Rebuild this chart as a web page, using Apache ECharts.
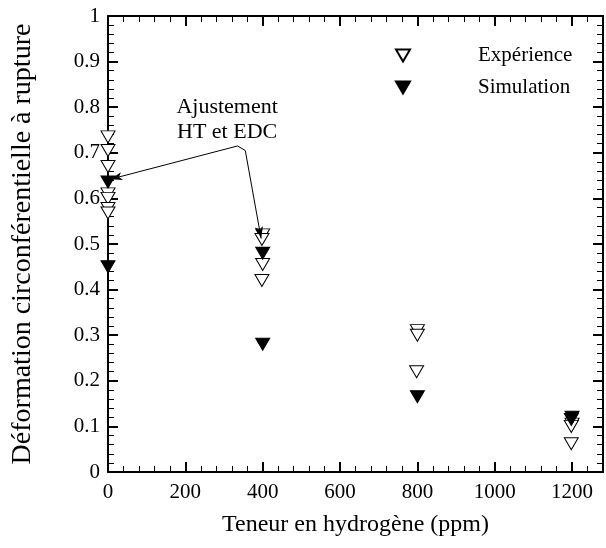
<!DOCTYPE html>
<html>
<head>
<meta charset="utf-8">
<script src="https://cdn.jsdelivr.net/npm/echarts@6/dist/echarts.min.js"></script>
<style>html,body{margin:0;padding:0;background:#fff}#c{width:606px;height:548px}</style>
</head>
<body>
<div id="c"></div>
<script>
// Experience (open triangles)
const expX = [0, 0, 0, 0, 0, 0, 0, 400, 398, 400, 398, 800, 800, 798, 1200, 1198, 1198];
const expY = [0.735, 0.705, 0.67, 0.61, 0.60, 0.578, 0.568, 0.52, 0.51, 0.455, 0.42, 0.31, 0.30, 0.22, 0.105, 0.10, 0.062];
// Simulation (filled triangles)
const simX = [0, 0, 400, 400, 800, 1200, 1198];
const simY = [0.636, 0.45, 0.48, 0.28, 0.165, 0.12, 0.115];
const xTicks = [0, 200, 400, 600, 800, 1000, 1200];
const seriesNames = ['Expérience', 'Simulation'];
const axisTitles = {x: 'Teneur en hydrogène (ppm)', y: 'Déformation circonférentielle à rupture'};
const noteText = 'Ajustement\nHT et EDC';
const notePos = [308, 0.772];
const noteArrowA = [[335, 0.715], [6, 0.642]];
const noteJoin = [[335, 0.715], [355, 0.705]];
const noteArrowB = [[355, 0.705], [396, 0.512]];

const FONT = 'Liberation Serif';
const TRI = 'path://M0,0 L14,0 L7,12 Z';
const pair = (xs, ys) => xs.map((x, i) => [x, ys[i]]);

const tickCommon = () => ({
  axisLine: {show: true, onZero: false, lineStyle: {color: '#000', width: 2}},
  axisTick: {show: true, inside: true, length: 10, lineStyle: {color: '#000', width: 2}},
  minorTick: {show: true, splitNumber: 5, length: 6, lineStyle: {color: '#000', width: 1}},
  splitLine: {show: false},
  minorSplitLine: {show: false},
  axisLabel: {show: false}
});

const chart = echarts.init(document.getElementById('c'), null, {renderer: 'canvas'});
chart.setOption({
  animation: false,
  backgroundColor: '#fff',
  grid: {left: 108, right: 3, top: 16, bottom: 76, containLabel: false},
  legend: {
    data: seriesNames,
    orient: 'vertical',
    left: 390, top: 40,
    itemWidth: 140, itemHeight: 12, itemGap: 11,
    textStyle: {fontFamily: FONT, fontSize: 21, color: '#000'},
    selectedMode: false
  },
  xAxis: [
    Object.assign(tickCommon(), {
      type: 'value', position: 'bottom', min: 0, max: 1280, interval: 200,
      name: axisTitles.x, nameLocation: 'middle', nameGap: 41,
      nameTextStyle: {fontFamily: FONT, fontSize: 24, color: '#000'},
      axisLabel: {show: true, color: '#000', fontFamily: FONT, fontSize: 21, margin: 10,
        formatter: v => xTicks.indexOf(v) >= 0 ? String(v) : ''}
    }),
    Object.assign(tickCommon(), {type: 'value', position: 'top', min: 0, max: 1280, interval: 200})
  ],
  yAxis: [
    Object.assign(tickCommon(), {
      type: 'value', position: 'left', min: 0, max: 1, interval: 0.1,
      name: axisTitles.y, nameLocation: 'middle', nameGap: 71,
      nameTextStyle: {fontFamily: FONT, fontSize: 28, color: '#000'},
      axisLabel: {show: true, color: '#000', fontFamily: FONT, fontSize: 21, margin: 8,
        formatter: v => String(Math.round(v * 10) / 10)}
    }),
    Object.assign(tickCommon(), {type: 'value', position: 'right', min: 0, max: 1, interval: 0.1})
  ],
  series: [
    {
      name: seriesNames[0], type: 'scatter', symbol: TRI, symbolSize: [14, 12],
      itemStyle: {color: '#fff', borderColor: '#000', borderWidth: 1, opacity: 1},
      data: pair(expX, expY), z: 3, clip: false
    },
    {
      name: seriesNames[1], type: 'scatter', symbol: TRI, symbolSize: [14, 12],
      itemStyle: {color: '#000', borderColor: '#000', borderWidth: 1, opacity: 1},
      data: pair(simX, simY), z: 4, clip: false
    },
    {
      type: 'line', data: [], silent: true, z: 5,
      markLine: {
        silent: true, animation: false,
        symbol: ['none', 'arrow'], symbolSize: [6, 12],
        label: {show: false},
        emphasis: {disabled: true},
        lineStyle: {color: '#000', width: 1, type: 'solid'},
        data: [
          [{coord: noteArrowA[0]}, {coord: noteArrowA[1]}],
          [{coord: noteArrowB[0]}, {coord: noteArrowB[1]}],
          [{coord: noteJoin[0], symbol: 'none'}, {coord: noteJoin[1], symbol: 'none'}]
        ]
      }
    },
    {
      type: 'scatter', data: [notePos], symbolSize: 1, silent: true,
      itemStyle: {opacity: 0},
      label: {show: true, position: 'inside', formatter: noteText, fontFamily: FONT, fontSize: 22,
        color: '#000', opacity: 1, textBorderWidth: 0, lineHeight: 25, align: 'center'}
    }
  ]
});
</script>
</body>
</html>
